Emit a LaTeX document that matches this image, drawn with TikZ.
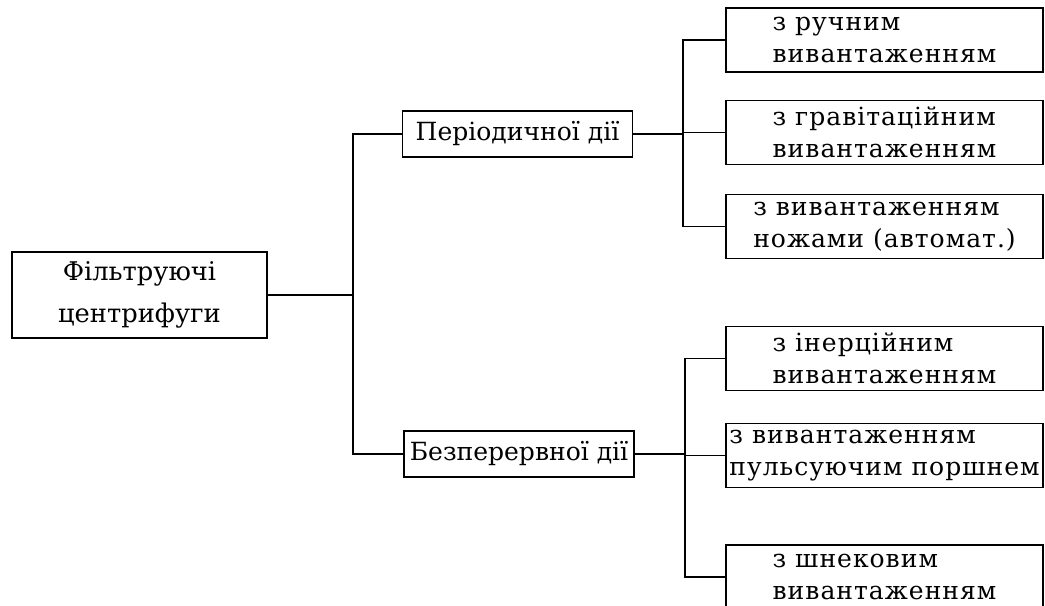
\documentclass[tikz,border=0pt]{standalone}
\usepackage{fontspec}
\setmainfont{DejaVu Serif}
\newfontfamily\widefont[LetterSpace=4]{DejaVu Serif}
\usetikzlibrary{positioning}
\tikzset{
  every picture/.style={line width=1.3pt},
  box/.style={draw, rectangle, align=center, inner sep=1pt},
  rootbox/.style={box, font=\fontsize{18.3}{30}\selectfont, minimum width=6.375cm, minimum height=2.15cm},
  kind/.style={box, font=\fontsize{17.8}{29}\selectfont, minimum width=5.75cm, minimum height=1.17cm},
  sub/.style={box, align=left, font=\widefont\fontsize{17.8}{22.5}\selectfont, minimum width=7.92cm, minimum height=1.6cm},
  link/.style={draw, line width=1.3pt},
}

\begin{document}
\begin{tikzpicture}[x=0.025cm, y=-0.025cm]
  \useasboundingbox (0,0) rectangle (1045,605);

  % root
  \node[rootbox] (fc) at (139.5,295) {Фільтруючі\\центрифуги};
  \coordinate (lbus) at (353,295);

  % two kinds
  \node[kind] (periodic)   at (517.5,134) {Періодичної дії};
  \node[kind] (continuous) at (519,454)   {Безперервної дії};
  \draw[link] (fc.east) -- (lbus);
  \draw[link] (periodic.west) -| (lbus);
  \draw[link] (continuous.west) -| (lbus);

  % periodic: how the cake is unloaded
  \node[sub] (manual)  at (884.5,40)    {з ручним\\вивантаженням};
  \node[sub] (gravity) at (884.5,132.5) {з гравітаційним\\вивантаженням};
  \node[sub] (knives)  at (884.5,226.5) {з вивантаженням\\ножами (автомат.)};
  \coordinate (ubus) at (683,134);
  \draw[link] (periodic.east) -- (ubus);
  \foreach \b in {manual, gravity, knives} \draw[link] (\b.west) -| (ubus);

  % continuous: how the cake is unloaded
  \node[sub] (inertia) at (884.5,358.5) {з інерційним\\вивантаженням};
  \node[sub] (piston)  at (884.5,455.5) {з вивантаженням\\пульсуючим поршнем};
  \node[sub] (screw)   at (884.5,577)   {з шнековим\\вивантаженням};
  \coordinate (dbus) at (685,454);
  \draw[link] (continuous.east) -- (dbus);
  \foreach \b in {inertia, piston, screw} \draw[link] (\b.west) -| (dbus);
\end{tikzpicture}
\end{document}
